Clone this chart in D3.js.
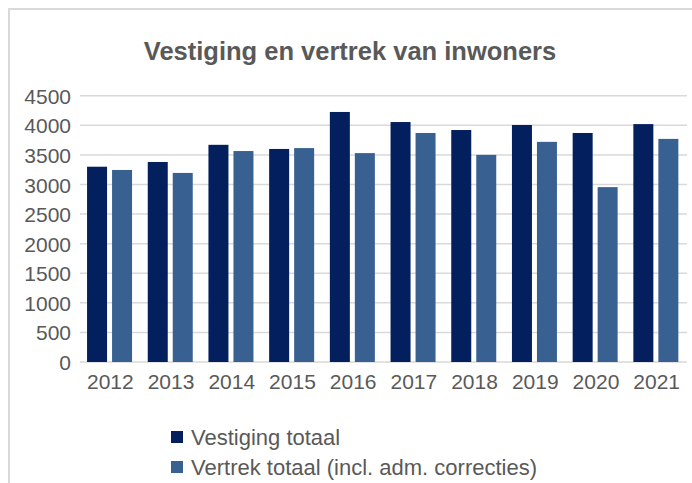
<!DOCTYPE html>
<html><head><meta charset="utf-8">
<script src="https://cdn.jsdelivr.net/npm/d3@7"></script>
<style>body{margin:0;background:#fff}svg{display:block;font-family:"Liberation Sans",Arial,sans-serif}</style>
</head><body>
<svg id="c" width="692" height="483"></svg>
<script>
const categories = ["2012","2013","2014","2015","2016","2017","2018","2019","2020","2021"];
const vestiging = [3300,3380,3670,3600,4225,4055,3920,4005,3870,4020];
const vertrek = [3245,3195,3565,3615,3530,3870,3500,3720,2955,3770];
const seriesNames = ["Vestiging totaal","Vertrek totaal (incl. adm. correcties)"];
const seriesColors = ["#031f5e","#386192"];
const yTicks = [0,500,1000,1500,2000,2500,3000,3500,4000,4500];

const svg = d3.select("#c");
// frame
svg.append("path").attr("d","M9,483 V9 H692").attr("fill","none").attr("stroke","#d9d9d9").attr("stroke-width",2);

const x = d3.scaleBand().domain(categories).range([80,687]);
const y = d3.scaleLinear().domain([0,4500]).range([362,95.7]);

// gridlines
svg.append("g").selectAll("line").data(yTicks).join("line")
  .attr("x1",80).attr("x2",687).attr("y1",d=>y(d)).attr("y2",d=>y(d))
  .attr("stroke","#d9d9d9").attr("stroke-width",1.5);

// y labels
const yAxis = d3.axisLeft(y).tickValues(yTicks).tickFormat(d3.format("d")).tickSize(0).tickPadding(0);
const ga = svg.append("g").attr("transform","translate(71,0)").call(yAxis);
ga.select(".domain").remove();
ga.selectAll("text").attr("fill","#595959").style("font-size","21px").attr("dy","0.36em");

// bars
const data = [vestiging, vertrek];
const barW = 20, gap = 5;
data.forEach((vals,si)=>{
  svg.append("g").selectAll("rect").data(vals).join("rect")
    .attr("x",(d,i)=>x(categories[i]) + x.bandwidth()/2 - barW - gap/2 + si*(barW+gap) - 0.8)
    .attr("width",barW)
    .attr("y",d=>y(d))
    .attr("height",d=>y(0)-y(d))
    .attr("fill",seriesColors[si]);
});

// x labels
const xAxis = d3.axisBottom(x).tickSize(0).tickPadding(0);
const gx = svg.append("g").attr("transform","translate(0,374)").call(xAxis);
gx.select(".domain").remove();
gx.selectAll("text").attr("fill","#595959").style("font-size","21px").attr("dy","0.71em");

// title
svg.append("text").attr("x",350).attr("y",60).attr("text-anchor","middle")
  .attr("fill","#595959").style("font-size","25.5px").style("font-weight","bold")
  .text("Vestiging en vertrek van inwoners");

// legend
const lg = svg.append("g");
seriesNames.forEach((n,i)=>{
  lg.append("rect").attr("x",171).attr("y",431+i*30).attr("width",12).attr("height",12).attr("fill",seriesColors[i]);
  lg.append("text").attr("x",191).attr("y",445+i*30).attr("fill","#595959").style("font-size","22px").text(n);
});
</script>
</body></html>
